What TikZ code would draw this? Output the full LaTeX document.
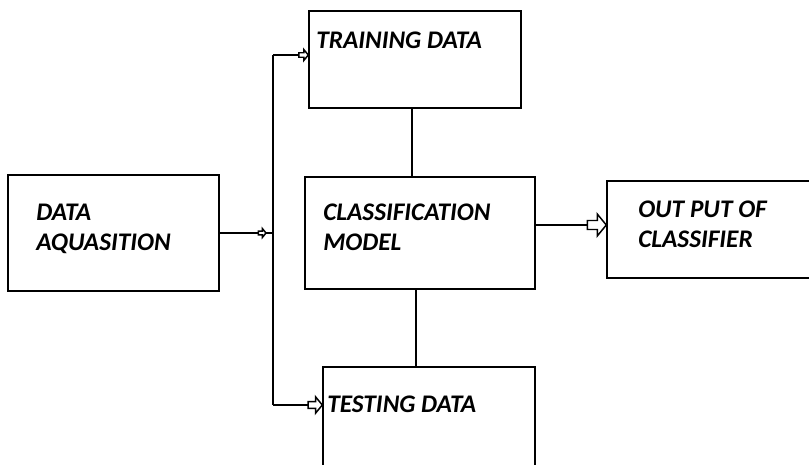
\documentclass[tikz,border=0pt]{standalone}
\usepackage{fontspec}
\setmainfont{Carlito}
\tikzset{
  block/.style={draw, line width=1.1pt, rectangle, inner sep=0pt},
  blocktext/.style={anchor=base west, inner sep=0pt, align=left,
    font=\fontsize{19}{22.5}\selectfont\bfseries\itshape},
  link/.style={line width=1.1pt},
  fatarrow/.pic={
    \draw[line width=1.1pt, fill=white, line join=miter]
      (0,0) -- (-9,-11) -- (-9,-4.5) -- (-19,-4.5) -- (-19,4.5) -- (-9,4.5) -- (-9,11) -- cycle;
  }
}
\begin{document}
\begin{tikzpicture}[x=0.75pt,y=0.75pt,yscale=-1,xscale=1]
\useasboundingbox (0,0) rectangle (809,464);
\clip (0,0) rectangle (809,464);

% boxes
\node[block, minimum width=158.25pt, minimum height=87pt] (acq) at (113.5,233) {};
\node[block, minimum width=159pt, minimum height=72.75pt] (train) at (415,59.5) {};
\node[block, minimum width=172.5pt, minimum height=84pt] (model) at (420,233) {};
\node[block, minimum width=159pt, minimum height=114.75pt] (test) at (429,443.5) {};
\node[block, minimum width=219.75pt, minimum height=72.75pt] (out) at (753.5,229.5) {};

% texts
\node[blocktext] (acqtext) at (36,250) {DATA\\AQUASITION};
\node[blocktext] (traintext) at (316,48) {TRAINING DATA};
\node[blocktext] (modeltext) at (323,250) {CLASSIFICATION\\MODEL};
\node[blocktext] (testtext) at (327,412) {TESTING DATA};
\node[blocktext] (outtext) at (638,247) {OUT PUT OF\\CLASSIFIER};

% bus on the left
\coordinate (jn) at (273,233);
\coordinate (bustop) at (273,55);
\coordinate (busbot) at (273,405);
\draw[link] (acq.east) -- (jn);
\draw[link] (bustop) -- (busbot);
\draw[link] (bustop) -- (train.west |- bustop);
\draw[link] (busbot) -- (test.west |- busbot);
\pic[scale=0.4] at (266,233) {fatarrow};
\pic[scale=0.5] at (train.west |- bustop) {fatarrow};
\pic[scale=0.75] at (test.west |- busbot) {fatarrow};

% links of the model
\draw[link] ([xshift=-2.25pt]train.south) -- ([xshift=-2.25pt]train.south |- model.north);
\draw[link] ([xshift=-3pt]model.south) -- ([xshift=-3pt]model.south |- test.north);
\draw[link] ([yshift=-6pt]model.east) -- ([yshift=-6pt]model.east -| out.west);
\pic at ([yshift=-6pt]model.east -| out.west) {fatarrow};

\end{tikzpicture}
\end{document}
